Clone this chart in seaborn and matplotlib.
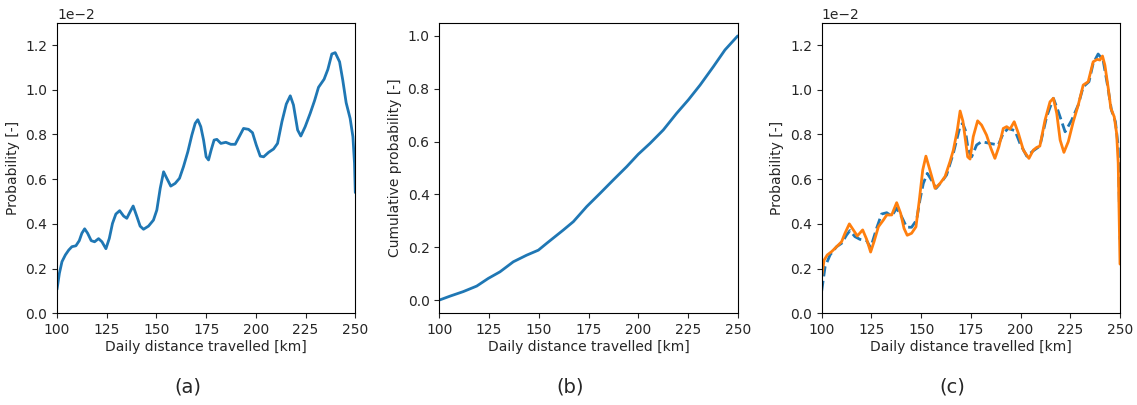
import numpy as np
import matplotlib
matplotlib.use("Agg")
import matplotlib.pyplot as plt
import seaborn as sns

sns.set_style("ticks")
plt.rcParams["font.family"] = ["DejaVu Sans"]

# (a) probability density of the daily distance (values in units of 1e-2)
pdf_km = [100, 101.2, 102.5, 104.2, 105.9, 107.5, 109.5, 111.2, 112.5, 113.9,
          115.4, 117.2, 118.9, 120.9, 122.6, 124.6, 126.3, 127.9, 129.6, 131.5,
          133.5, 135.1, 136.8, 138.3, 140.2, 141.8, 143.5, 146.0, 148.5, 150.2,
          151.9, 153.6, 155.2, 157.2, 159.4, 161.6, 163.6, 165.8, 167.8, 169.5,
          170.8, 172.3, 173.7, 175.0, 176.2, 177.5, 179.0, 180.4, 182.4, 184.9,
          187.4, 189.6, 191.8, 193.8, 196.3, 198.3, 200.2, 202.2, 203.9, 206.4,
          208.9, 210.9, 213.1, 215.3, 217.3, 218.9, 221.0, 222.6, 224.8, 227.3,
          229.5, 231.5, 234.3, 236.2, 238.2, 239.9, 242.1, 243.7, 245.4, 247.4,
          248.8, 249.6, 250]
pdf_val = [0.107, 0.179, 0.231, 0.261, 0.283, 0.298, 0.302, 0.325, 0.358, 0.378,
           0.358, 0.325, 0.320, 0.334, 0.320, 0.289, 0.335, 0.402, 0.444, 0.459,
           0.435, 0.425, 0.455, 0.480, 0.432, 0.390, 0.376, 0.390, 0.417, 0.462,
           0.559, 0.633, 0.604, 0.569, 0.581, 0.604, 0.656, 0.723, 0.797, 0.850,
           0.866, 0.835, 0.775, 0.700, 0.686, 0.730, 0.775, 0.778, 0.760, 0.765,
           0.756, 0.756, 0.793, 0.827, 0.823, 0.808, 0.753, 0.703, 0.700, 0.720,
           0.735, 0.760, 0.857, 0.936, 0.973, 0.932, 0.820, 0.793, 0.835, 0.894,
           0.951, 1.011, 1.047, 1.091, 1.160, 1.166, 1.125, 1.043, 0.942, 0.872,
           0.790, 0.671, 0.540]

# (b) cumulative probability
cdf_km = [100, 105.4, 112, 118.8, 124.6, 130.5, 137.2, 143.9, 149.8, 154, 162.3,
          167.4, 174.1, 180.8, 187.5, 194.2, 200, 205.9, 212.6, 219.3, 225.2,
          231.1, 237.8, 243.6, 250]
cdf_val = [0.0, 0.015, 0.032, 0.053, 0.082, 0.107, 0.145, 0.170, 0.189, 0.215, 0.265,
           0.297, 0.354, 0.404, 0.455, 0.505, 0.552, 0.593, 0.644, 0.707, 0.758,
           0.814, 0.884, 0.947, 1.0]

# (c) reference density (dashed) and resampled density (solid), units of 1e-2
ref_km = [100, 101.7, 104.2, 107.5, 110.0, 112.5, 114.2, 116.7, 119.2, 122.6,
          124.6, 127.6, 130.1, 132.7, 135.2, 137.7, 140.2, 142.7, 145.2, 147.7,
          149.4, 151.1, 153.1, 155.2, 157.5, 160.3, 162.8, 166.2, 169.5, 170.9,
          172.2, 173.7, 175.4, 177.9, 180.4, 184.6, 188.8, 191.3, 193.8, 197.2,
          199.7, 203.1, 206.4, 209.7, 213.1, 216.5, 219.0, 222.4, 225.7, 229.0,
          231.5, 234.4, 236.5, 239.0, 241.5, 243.7, 245.7, 247.7, 249.1, 250]
ref_val = [0.100, 0.208, 0.261, 0.298, 0.313, 0.350, 0.370, 0.343, 0.331, 0.325,
           0.293, 0.380, 0.444, 0.450, 0.435, 0.470, 0.432, 0.385, 0.385, 0.417,
           0.507, 0.581, 0.626, 0.596, 0.559, 0.588, 0.619, 0.716, 0.834, 0.850,
           0.820, 0.730, 0.700, 0.753, 0.768, 0.760, 0.753, 0.805, 0.827, 0.817,
           0.760, 0.703, 0.727, 0.748, 0.879, 0.962, 0.902, 0.812, 0.864, 0.932,
           1.013, 1.036, 1.118, 1.160, 1.133, 1.021, 0.909, 0.857, 0.745, 0.330]

res_km = [100, 101.2, 102.8, 105.0, 107.5, 110.0, 111.7, 113.9, 115.9, 117.9,
          120.6, 122.6, 124.6, 126.3, 128.5, 131.0, 132.7, 135.2, 137.7, 139.7,
          141.4, 143.0, 145.2, 147.4, 149.1, 150.8, 152.4, 154.4, 157.0, 159.5,
          162.0, 164.5, 166.2, 168.2, 169.6, 171.0, 172.2, 173.4, 174.6, 176.2,
          178.4, 180.4, 182.9, 185.1, 187.1, 189.1, 191.3, 193.0, 194.7, 196.8,
          198.9, 201.4, 204.2, 206.4, 208.1, 209.7, 212.3, 214.8, 216.5, 218.2,
          219.9, 221.8, 224.0, 226.5, 229.0, 231.5, 234.0, 236.5, 238.5, 239.9,
          241.2, 242.4, 244.1, 245.4, 247.1, 248.3, 249.1, 250]
res_val = [0.164, 0.238, 0.261, 0.276, 0.298, 0.320, 0.358, 0.400, 0.373, 0.346,
           0.373, 0.331, 0.274, 0.320, 0.387, 0.417, 0.440, 0.440, 0.495, 0.447,
           0.380, 0.349, 0.358, 0.387, 0.507, 0.641, 0.703, 0.641, 0.559, 0.581,
           0.611, 0.678, 0.730, 0.820, 0.905, 0.860, 0.780, 0.700, 0.690, 0.790,
           0.861, 0.842, 0.797, 0.738, 0.693, 0.745, 0.827, 0.835, 0.824, 0.857,
           0.805, 0.730, 0.693, 0.730, 0.742, 0.748, 0.864, 0.946, 0.962, 0.894,
           0.775, 0.720, 0.768, 0.857, 0.932, 1.021, 1.036, 1.125, 1.136, 1.133,
           1.151, 1.110, 1.006, 0.917, 0.879, 0.805, 0.671, 0.220]

SCALE = 1e-2
BLUE = "#1f77b4"
ORANGE = "#ff7f0e"
XLABEL = "Daily distance travelled [km]"
FS = 10

fig = plt.figure(figsize=(11.37, 4.05), dpi=100)
W, H = 1137, 405


def add_axes(left, right, top, bottom):
    return fig.add_axes([left / W, 1 - bottom / H, (right - left) / W, (bottom - top) / H])


ax_a = add_axes(57, 355.3, 22.7, 313.3)
ax_b = add_axes(439.3, 737.7, 22.7, 313.3)
ax_c = add_axes(821.7, 1120, 22.7, 313.3)

line_kw = dict(lw=2, solid_joinstyle="round", dash_joinstyle="round")
sns.lineplot(x=pdf_km, y=np.array(pdf_val) * SCALE, ax=ax_a, color=BLUE, **line_kw)
sns.lineplot(x=cdf_km, y=cdf_val, ax=ax_b, color=BLUE, **line_kw)
sns.lineplot(x=ref_km, y=np.array(ref_val) * SCALE, ax=ax_c, color=BLUE,
             linestyle="--", **line_kw)
sns.lineplot(x=res_km, y=np.array(res_val) * SCALE, ax=ax_c, color=ORANGE, **line_kw)

for ax in (ax_a, ax_c):
    ax.set_ylim(0, 1.3e-2)
    ax.set_yticks(np.arange(0, 1.21, 0.2) * SCALE)
    ax.ticklabel_format(style="sci", axis="y", scilimits=(0, 0))
    ax.yaxis.get_offset_text().set_fontsize(FS)
    ax.set_ylabel("Probability [-]", fontsize=FS)

ax_b.set_ylim(-0.05, 1.05)
ax_b.set_yticks(np.arange(0, 1.01, 0.2))
ax_b.set_ylabel("Cumulative probability [-]", fontsize=FS)

for ax, tag, cx in ((ax_a, "(a)", 188), (ax_b, "(b)", 570), (ax_c, "(c)", 952)):
    ax.set_xlim(100, 250)
    ax.set_xticks([100, 125, 150, 175, 200, 225, 250])
    ax.set_xlabel(XLABEL, fontsize=FS, labelpad=2)
    ax.tick_params(labelsize=FS, direction="out", length=3.5, width=0.8)
    for s in ax.spines.values():
        s.set_linewidth(0.8)
        s.set_color("black")
    fig.text(cx / W, 1 - 387 / H, tag, ha="center", va="center", fontsize=14)

fig.savefig("out.png", dpi=100)
